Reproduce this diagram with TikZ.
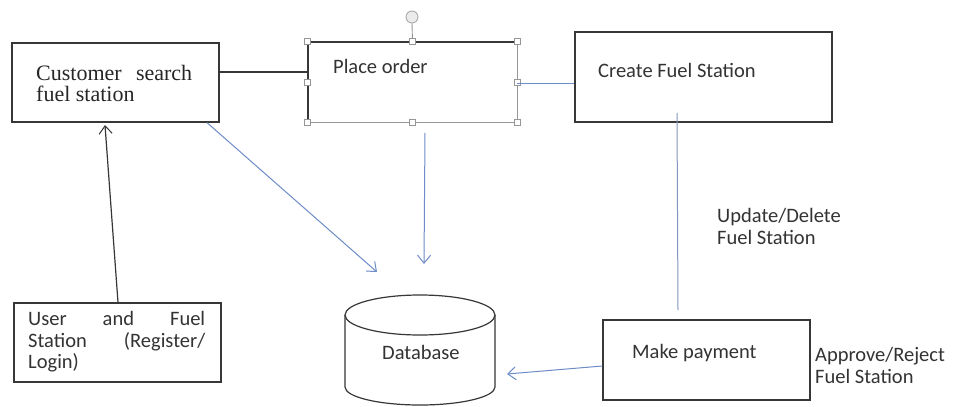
\documentclass[tikz,border=0pt]{standalone}
\usepackage{fontspec}
\setmainfont{Carlito}
\newfontfamily\serifT{Liberation Serif}
\usetikzlibrary{arrows.meta}
\definecolor{lineblue}{RGB}{110,140,200}
\definecolor{greyblue}{RGB}{130,150,190}
\definecolor{boxline}{RGB}{55,55,55}
\definecolor{selgrey}{RGB}{150,150,150}
\tikzset{
  box/.style={draw=boxline, line width=1.3pt, inner sep=0pt},
  plainbox/.style={inner sep=0pt},
  txt/.style={anchor=base west, inner sep=0pt, text=black!80,
    font=\fontsize{20.5}{22}\selectfont},
  serif/.style={anchor=base west, inner sep=0pt, text=black!85,
    font=\serifT\fontsize{22}{22}\selectfont},
  blk/.style={draw=boxline, line width=1.2pt},
  blu/.style={draw=lineblue, line width=1pt},
  tipped/.style={-{Straight Barb[length=8pt,width=13pt,line width=1pt]}},
  handle/.style={draw=selgrey, fill=white, line width=0.8pt, minimum size=6pt,
    inner sep=0pt},
}
\begin{document}
\begin{tikzpicture}[x=1pt,y=-1pt]
\useasboundingbox[fill=white] (0,0) rectangle (954,407);

% boxes
\node[box, minimum width=207pt, minimum height=79pt] (cs) at (115.5,82.5) {};
\node[plainbox, minimum width=209pt, minimum height=80pt] (po) at (412.5,82) {};
\node[box, minimum width=257pt, minimum height=90pt] (cf) at (703.5,77) {};
\node[box, minimum width=207pt, minimum height=79pt] (user) at (117.5,342.5) {};
\node[box, minimum width=207pt, minimum height=80pt] (mp) at (706.5,360) {};

% selected "Place order" box
\draw[draw=boxline, line width=1.4pt] (po.south west) -- (po.north west) -- (po.north east);
\draw[draw=selgrey, line width=0.9pt] (po.north east) -- (po.south east) -- (po.south west);
\coordinate (rot) at (412,17);
\draw[draw=selgrey, line width=0.9pt] (po.north) -- (412,23);
\draw[draw=selgrey!80, fill=black!8, line width=0.9pt] (rot) circle (6pt);
\foreach \a in {north west,north,north east,east,south east,south,south west,west}
  \node[handle] (h-\a) at (po.\a) {};

% database cylinder
\draw[boxline, line width=1.2pt, fill=white]
  (345,315) -- (345,387) arc[start angle=180, end angle=360, x radius=75pt, y radius=18pt]
  -- (495,315);
\draw[boxline, line width=1.2pt] (420,315) ellipse[x radius=75pt, y radius=20pt];
\node[plainbox] (db) at (420,350) {};

% texts
\node[serif] (cs1) at (36,80) {\makebox[156pt][s]{Customer search}};
\node[serif] (cs2) at (36,101) {fuel station};
\node[txt] (pot) at (333,73) {Place order};
\node[txt] (cft) at (598,77) {Create Fuel Station};
\node[txt] (u1) at (28,325) {\makebox[177pt][s]{User and Fuel}};
\node[txt] (u2) at (28,347) {\makebox[177pt][s]{Station (Register/}};
\node[txt] (u3) at (28,368) {Login)};
\node[txt] (mpt) at (632,358) {Make payment};
\node[txt] (dbt) at (382,359) {Database};
\node[txt] (ud1) at (717,222) {Update/Delete};
\node[txt] (ud2) at (717,244) {Fuel Station};
\node[txt] (ar1) at (815,361) {Approve/Reject};
\node[txt] (ar2) at (815,383) {Fuel Station};

% connectors
\coordinate (csdown) at (105,125);
\coordinate (dbA) at (377,272);
\coordinate (dbB) at (424,264);
\coordinate (dbC) at (507,374);
\coordinate (cfin) at (677,113);
\coordinate (mptop) at (678,310);

\draw[blk] (cs.east |- 0,72) -- (po.west |- 0,72);
\draw[blu] (po.east |- 0,83) -- (cf.west |- 0,83);
\draw[draw=greyblue, line width=1pt] (cfin) -- (mptop);
\draw[blk, tipped] (user.north -| 118,0) -- (csdown);
\draw[blu, tipped] (cs.south -| 207,0) -- (dbA);
\draw[blu, tipped] (425,133) -- (dbB);
\draw[blu, tipped] (mp.west |- 0,366) -- (dbC);
\end{tikzpicture}
\end{document}
